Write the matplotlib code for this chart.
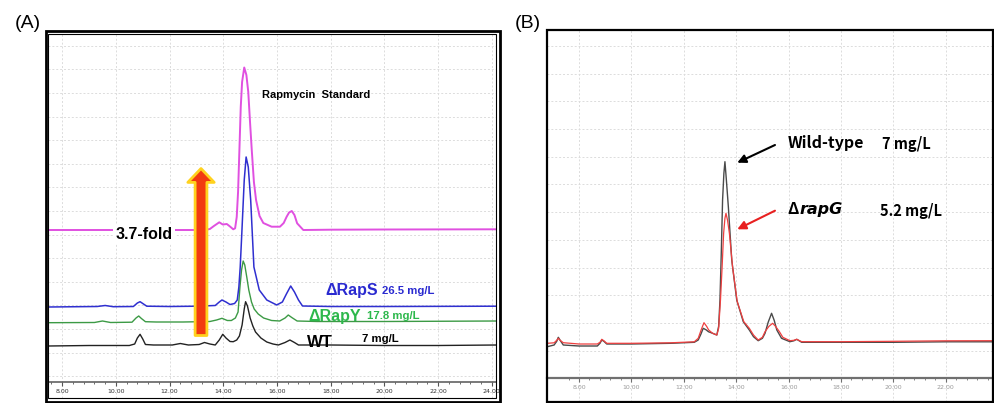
import numpy as np
import matplotlib.pyplot as plt
import matplotlib.patches as mpatches

W, H = 995, 403

## Panel A: retention time (min) and detector response of each trace
a_time_wt = [7.49, 9.0, 10.5, 10.7, 10.8, 10.9, 11.0, 11.1, 11.4, 12.1, 12.4, 12.7, 13.1, 13.3,
             13.5, 13.7, 13.85, 13.98, 14.1, 14.25, 14.37, 14.5, 14.6, 14.7, 14.78, 14.83, 14.9,
             15.0, 15.1, 15.2, 15.4, 15.62, 15.85, 16.05, 16.3, 16.48, 16.65, 16.8, 18.0, 20.0,
             22.0, 24.18]
a_wt = [36, 36.5, 36.5, 38, 44, 47.7, 43, 37.5, 37, 37, 38.5, 37, 37.5, 39.5,
        38, 37, 42, 47.7, 44, 40.5, 40.3, 42, 46, 57, 73, 80.3, 76,
        64, 56, 50, 44, 40, 38, 37, 39.5, 42, 39.5, 37, 37, 36.5,
        36.5, 37]

a_time_rapy = [7.49, 9.2, 9.5, 9.8, 10.6, 10.75, 10.85, 10.95, 11.1, 11.5, 12.5, 13.5, 13.75,
               13.95, 14.15, 14.3, 14.45, 14.55, 14.62, 14.68, 14.74, 14.8, 14.88, 14.95, 15.05,
               15.15, 15.3, 15.5, 15.8, 16.1, 16.3, 16.42, 16.55, 16.75, 17.5, 20.0, 24.18]
a_rapy = [59.3, 59.5, 61, 59.5, 59.8, 64, 66, 63.5, 60.3, 60, 60, 60.5, 62,
          63.7, 61.5, 61.5, 64, 70, 95, 112, 121, 117, 104, 92, 80,
          73, 68, 64, 61.5, 61, 64, 67, 64.5, 61, 60.5, 60.5, 61]

a_time_raps = [7.49, 9.3, 9.6, 9.9, 10.65, 10.8, 10.9, 11.0, 11.15, 12.0, 13.0, 13.7, 13.85,
               13.95, 14.1, 14.25, 14.42, 14.52, 14.58, 14.63, 14.69, 14.78, 14.85, 14.93, 15.02,
               15.14, 15.34, 15.62, 15.99, 16.2, 16.35, 16.51, 16.65, 16.8, 16.95, 18.0, 20.0,
               24.18]
a_raps = [75, 75.5, 76.5, 75.3, 75.5, 79, 80.3, 78.5, 75.8, 75.5, 75.8, 76.5, 80,
          82, 80, 77.5, 78.5, 82, 95, 115, 149, 202, 225, 215, 182,
          115, 92, 82, 77, 80, 88, 96, 90, 82, 76, 75.5, 75.5,
          75.8]

a_time_std = [7.49, 10.0, 13.3, 13.5, 13.65, 13.85, 13.98, 14.13, 14.25, 14.37, 14.44, 14.5,
              14.55, 14.6, 14.65, 14.7, 14.78, 14.86, 14.93, 15.0, 15.06, 15.14, 15.22, 15.35,
              15.49, 15.8, 16.11, 16.25, 16.36, 16.45, 16.55, 16.65, 16.75, 16.98, 18.0, 20.0,
              24.18]
a_std = [152, 152, 152, 153, 156, 159.7, 157.5, 158, 155.5, 152.7, 153.7, 165,
         190, 232, 275, 300, 314.5, 307, 290, 258, 232, 200, 182, 166,
         159, 155.3, 155.3, 159, 165.3, 169.5, 171, 167, 158.7, 152, 152.3, 152.5,
         152.7]

## Panel B
b_time_wt = [6.79, 7.05, 7.15, 7.21, 7.28, 7.4, 8.0, 8.7, 8.8, 8.87, 8.95, 9.06, 10.0, 11.5,
             12.4, 12.55, 12.65, 12.74, 12.85, 12.94, 13.1, 13.26, 13.33, 13.38, 13.43, 13.48,
             13.53, 13.57, 13.62, 13.7, 13.83, 14.02, 14.27, 14.5, 14.66, 14.84, 15.0, 15.1,
             15.22, 15.35, 15.45, 15.55, 15.73, 16.05, 16.2, 16.31, 16.5, 18.0, 20.0, 22.0, 23.79]
b_wt = [31.6, 33.3, 37, 41, 38, 33.3, 32.3, 32.3, 35, 38.3, 37, 34.3, 34.3, 35,
        36, 38.3, 44, 50, 48.5, 46.6, 45, 43.3, 52, 78, 125, 178.3,
        205, 216.6, 200, 171.6, 118.3, 78.3, 56.6, 48.3, 41.6, 37.6, 40, 45,
        56, 65, 58, 48.3, 40, 36.6, 37.5, 39, 36, 36, 36, 36.5, 36.5]

b_time_rapg = [6.79, 7.05, 7.15, 7.21, 7.28, 7.4, 8.0, 8.7, 8.8, 8.87, 8.95, 9.06, 10.0, 11.5,
               12.4, 12.55, 12.67, 12.77, 12.87, 12.95, 13.1, 13.26, 13.33, 13.4, 13.46, 13.52,
               13.57, 13.61, 13.67, 13.74, 13.86, 14.04, 14.29, 14.5, 14.66, 14.84, 15.0, 15.1,
               15.25, 15.39, 15.5, 15.65, 15.78, 16.05, 16.2, 16.31, 16.5, 18.0, 20.0, 22.0, 23.79]
b_rapg = [35, 35.5, 38, 40, 38, 35.6, 34.3, 34.3, 36, 39, 37.5, 35, 35, 35.5,
          36.5, 40, 49, 55.6, 52, 48.3, 45, 43.3, 50, 78.3, 110, 145,
          160, 165, 158, 145, 111.6, 76.6, 56.6, 50, 43.3, 38.3, 41, 46.6,
          52, 55, 52, 46.6, 41, 37.6, 38, 39, 36.6, 36.6, 37, 37.5, 37.6]

a_ticks = [8, 10, 12, 14, 16, 18, 20, 22, 24]
b_ticks = [8, 10, 12, 14, 16, 18, 20, 22]


def fx(px):
    return px / W


def fy(py):
    return 1 - py / H


def frame(fig, x0, y0, x1, y1, lw):
    fig.add_artist(mpatches.Rectangle((fx(x0), fy(y1)), fx(x1) - fx(x0), fy(y0) - fy(y1),
                                      transform=fig.transFigure, fill=False,
                                      edgecolor='black', linewidth=lw))


def setup_axis(ax, xlim, ylim, ticks, grid_y, axis_color, label_color):
    ax.set_xlim(*xlim)
    ax.set_ylim(*ylim)
    for s in ['top', 'left', 'right']:
        ax.spines[s].set_visible(False)
    ax.spines['bottom'].set_position(('data', 0))
    ax.spines['bottom'].set_color(axis_color)
    ax.spines['bottom'].set_linewidth(1.1)
    ax.set_xticks(ticks)
    ax.set_xticklabels(['%.2f' % t for t in ticks])
    ax.set_xticks(np.arange(7.6, xlim[1], 0.4), minor=True)
    ax.tick_params(axis='x', which='major', direction='out', length=3, width=0.8,
                   color=axis_color, labelsize=4.5, labelcolor=label_color, pad=2)
    ax.tick_params(axis='x', which='minor', direction='out', length=1.5, width=0.6,
                   color=axis_color)
    ax.set_yticks(grid_y)
    ax.tick_params(axis='y', length=0, labelleft=False)
    ax.grid(True, color='#dcdcdc', linestyle=(0, (2, 2)), linewidth=0.7)
    ax.set_axisbelow(True)


fig = plt.figure(figsize=(W / 100, H / 100), dpi=100)

## ---- (A)
axA = fig.add_axes([fx(48.5), fy(398), fx(496.5) - fx(48.5), fy(33.5) - fy(398)])
setup_axis(axA, (7.49, 24.175), (-16, 348.5), a_ticks, np.arange(336.3, 0, -23.6),
           '#555555', '#333333')
axA.plot(a_time_wt, a_wt, color='#222222', lw=1.0)
axA.plot(a_time_rapy, a_rapy, color='#3c9a45', lw=1.0)
axA.plot(a_time_raps, a_raps, color='#2f2fd0', lw=1.1)
axA.plot(a_time_std, a_std, color='#e050e0', lw=1.4)

fA = 'Liberation Sans'
axA.text(15.43, 287, 'Rapmycin  Standard', fontsize=8, fontweight='bold', family=fA,
         va='center', ha='left')
axA.text(9.97, 148, '3.7-fold', fontsize=11.5, fontweight='bold', family=fA,
         va='center', ha='left', zorder=4,
         bbox=dict(boxstyle='square,pad=0.15', facecolor='white', edgecolor='none'))
axA.text(17.8, 92, '\u0394RapS', fontsize=11.5, fontweight='bold', family=fA,
         color='#2a2ad0', va='center', ha='left')
axA.text(19.92, 91, '26.5 mg/L', fontsize=8.2, fontweight='bold', family=fA,
         color='#2a2ad0', va='center', ha='left')
axA.text(17.17, 66, '\u0394RapY', fontsize=11.5, fontweight='bold', family=fA,
         color='#2db84c', va='center', ha='left')
axA.text(19.34, 66, '17.8 mg/L', fontsize=8.2, fontweight='bold', family=fA,
         color='#2db84c', va='center', ha='left')
axA.text(17.1, 39.7, 'WT', fontsize=12, fontweight='bold', family=fA,
         va='center', ha='left')
axA.text(19.18, 42.7, '7 mg/L', fontsize=8.2, fontweight='bold', family=fA,
         va='center', ha='left')

arrow = mpatches.FancyArrowPatch((13.17, 46.5), (13.17, 213.5),
                                 arrowstyle=mpatches.ArrowStyle.Simple(head_length=10,
                                                                       head_width=19,
                                                                       tail_width=8.5),
                                 mutation_scale=1, shrinkA=0, shrinkB=0,
                                 facecolor='#f23a10', edgecolor='#ffd21e', linewidth=2.0,
                                 zorder=5)
axA.add_patch(arrow)

frame(fig, 48.5, 33.5, 496.5, 398, 0.8)
frame(fig, 46, 31, 500.5, 401.5, 2.0)

## ---- (B)
axB = fig.add_axes([fx(547.3), fy(401.5), fx(992.7) - fx(547.3), fy(30) - fy(401.5)])
setup_axis(axB, (6.79, 23.79), (-23.2, 348.3), b_ticks, np.arange(27.7, 348, 27.7),
           '#707070', '#9a9a9a')
axB.spines['bottom'].set_linewidth(1.6)
axB.plot(b_time_wt, b_wt, color='#4a4a4a', lw=1.0)
axB.plot(b_time_rapg, b_rapg, color='#ee4040', lw=0.9)

fB = ['Noto Sans CJK KR', 'DejaVu Sans']
axB.text(15.95, 235.6, 'Wild-type', fontsize=11.5, fontweight='bold', family=fB,
         va='center', ha='left')
axB.text(19.55, 234.3, '7 mg/L', fontsize=10.5, fontweight='bold', family=fB,
         va='center', ha='left')
axB.text(15.95, 169, '\u0394', fontsize=11.5, fontweight='bold', family=fB,
         va='center', ha='left')
axB.text(16.42, 169, 'rapG', fontsize=11.5, fontweight='bold', style='italic',
         family=['DejaVu Sans'], va='center', ha='left')
axB.text(19.49, 167.6, '5.2 mg/L', fontsize=10.5, fontweight='bold', family=fB,
         va='center', ha='left')
axB.annotate('', xy=(14.04, 215.6), xytext=(15.48, 233.3),
             arrowprops=dict(arrowstyle='-|>,head_length=0.5,head_width=0.25',
                             color='black', lw=1.5, shrinkA=0, shrinkB=0))
axB.annotate('', xy=(14.04, 149), xytext=(15.48, 167.6),
             arrowprops=dict(arrowstyle='-|>,head_length=0.5,head_width=0.25',
                             color='#e82020', lw=1.5, shrinkA=0, shrinkB=0))

frame(fig, 547.3, 30, 992.7, 401.5, 1.6)

fig.text(fx(15), fy(23), '(A)', fontsize=14, family='Liberation Sans', va='center', ha='left')
fig.text(fx(515), fy(23), '(B)', fontsize=14, family='Liberation Sans', va='center', ha='left')

fig.savefig('out.png', dpi=100)
